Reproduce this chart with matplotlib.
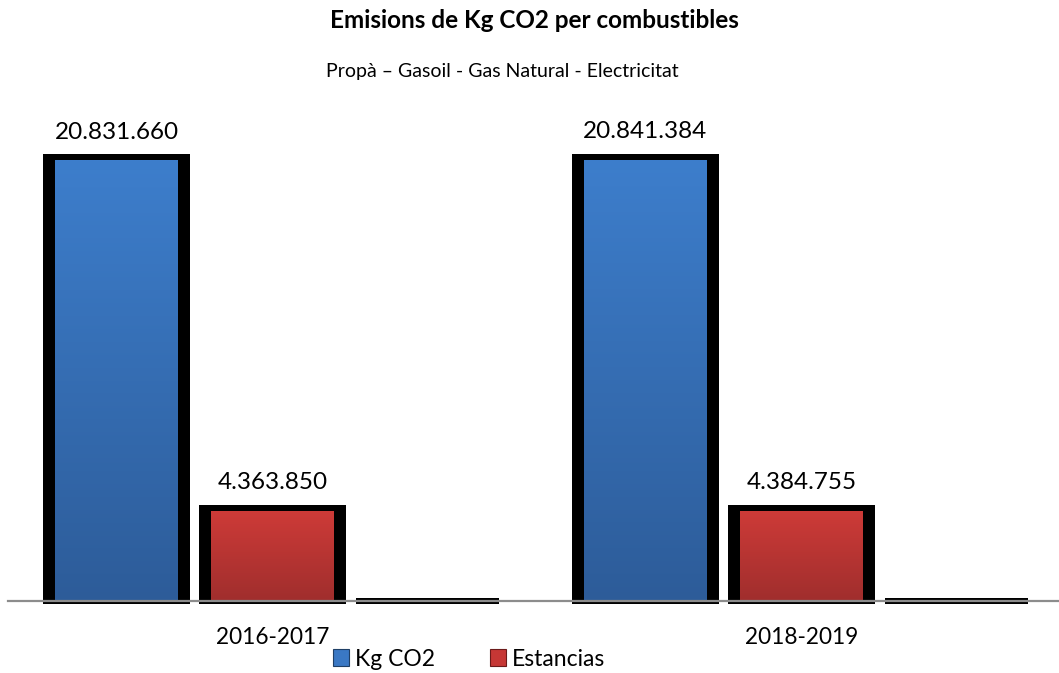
import matplotlib
matplotlib.use("Agg")
import matplotlib.pyplot as plt
import numpy as np
from matplotlib.colors import to_rgb
from matplotlib.patches import Patch

plt.rcParams['font.family'] = ['Lato', 'DejaVu Sans']

categories = ["2016-2017", "2018-2019"]
kg_co2 = [20831660, 20841384]
estancias = [4363850, 4384755]
ratio = [4.77, 4.75]
labels_kg = ["20.831.660", "20.841.384"]
labels_est = ["4.363.850", "4.384.755"]

W, H = 1059, 673
fig = plt.figure(figsize=(W / 100, H / 100), dpi=100)
unit_px = 529.0
ax_h_px = 511.5
ax = fig.add_axes([8 / W, 72 / H, 2 * unit_px / W, ax_h_px / H])
YMAX = 24e6
PX = YMAX / ax_h_px  # data units per pixel (vertical)

x = np.arange(len(categories))
offs = [-0.295, 0.0, 0.293]
w_outer = 147 / unit_px
w_inner = 123 / unit_px
w_third = 143 / unit_px


def grad_bar(xc, h, top, bot):
    for xx, hh in zip(xc, h):
        ax.bar(xx, hh + 6 * PX, w_outer, bottom=-3 * PX, color='black', zorder=2, clip_on=False)
        inner = ax.bar(xx, hh - 3 * PX, w_inner, facecolor='none', edgecolor='none', zorder=3)[0]
        t = np.array(to_rgb(top)); bt = np.array(to_rgb(bot))
        f = np.linspace(0, 1, 256)[:, None]
        img = (bt[None, :] * (1 - f) + t[None, :] * f)[:, None, :]
        im = ax.imshow(img, extent=[xx - w_inner / 2, xx + w_inner / 2, 0, hh - 3 * PX],
                       origin='lower', aspect='auto', zorder=3, interpolation='bilinear')
        im.set_clip_path(inner)


grad_bar(x + offs[0], kg_co2, '#3D7ECC', '#2D5C99')
grad_bar(x + offs[1], estancias, '#CE3B38', '#A02E2D')
for xx, v in zip(x + offs[2], ratio):
    ax.bar(xx, v + 6 * PX, w_third, bottom=-3 * PX, color='black', zorder=2, clip_on=False)

for xi, v, s in zip(x + offs[0], kg_co2, labels_kg):
    ax.annotate(s, (xi, v), xytext=(0, 18), textcoords='offset points', ha='center', va='center', fontsize=17.5)
for xi, v, s in zip(x + offs[1], estancias, labels_est):
    ax.annotate(s, (xi, v), xytext=(0, 18), textcoords='offset points', ha='center', va='center', fontsize=17.5)

ax.set_xlim(-0.5, 1.5)
ax.set_ylim(0, YMAX)
for sp in ['top', 'right', 'left']:
    ax.spines[sp].set_visible(False)
ax.spines['bottom'].set_color('#8C8C8C')
ax.spines['bottom'].set_linewidth(1.6)
ax.spines['bottom'].set_zorder(5)
ax.set_yticks([])
ax.set_xticks(x)
ax.set_xticklabels(categories, fontsize=16.3)
ax.tick_params(axis='x', length=0, pad=19)

fig.text(534 / W, 1 - 20 / H, "Emisions de Kg CO2 per combustibles", ha='center', va='center',
         fontsize=17.5, fontweight='bold')
fig.text(502 / W, 1 - 72 / H, "Propà – Gasoil - Gas Natural - Electricitat", ha='center', va='center',
         fontsize=14)

handles = [Patch(facecolor='#3A78C4', edgecolor='#1F3F66', linewidth=0.8),
           Patch(facecolor='#C63735', edgecolor='#6B1A1A', linewidth=0.8)]
fig.legend(handles, ["Kg CO2", "Estancias"], loc='center', bbox_to_anchor=(469 / W, 1 - 659 / H),
           ncol=2, frameon=False, fontsize=16.5, handlelength=0.7, handleheight=0.7,
           handletextpad=0.25, columnspacing=2.4, borderpad=0)

fig.savefig("out.png", dpi=100)
